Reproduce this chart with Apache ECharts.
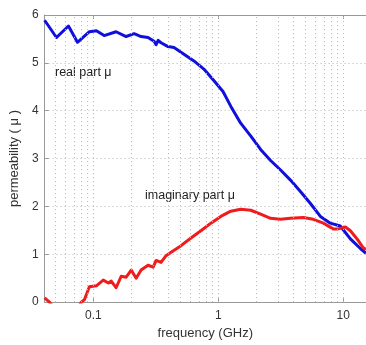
<!DOCTYPE html>
<html><head><meta charset="utf-8">
<script src="https://cdn.jsdelivr.net/npm/echarts@6/dist/echarts.min.js"></script>
<style>html,body{margin:0;padding:0;background:#fff}#c{width:366px;height:345px}</style>
</head><body><div id="c"></div>
<script>
// Real part of permeability (blue): frequency (GHz) and value
var realFreq = [0.0407,0.0507,0.0632,0.0746,0.093,0.1057,0.122,0.152,0.183,0.212,0.241,0.274,0.306,0.318,0.330,0.348,0.396,0.442,0.531,0.638,0.766,0.92,1.09,1.26,1.51,1.82,2.18,2.62,3.15,3.78,4.54,5.46,6.56,7.87,9.46,11.4,13.7,15.2];
var realVal  = [5.89,5.53,5.77,5.43,5.65,5.67,5.57,5.65,5.55,5.61,5.55,5.53,5.45,5.38,5.47,5.42,5.34,5.32,5.18,5.04,4.87,4.63,4.40,4.09,3.74,3.47,3.19,2.96,2.76,2.55,2.31,2.06,1.79,1.65,1.59,1.32,1.12,1.02];
// Imaginary part of permeability (red)
var imagFreq = [0.0407,0.0446,0.055,0.07,0.080,0.0848,0.0929,0.1057,0.120,0.132,0.139,0.152,0.167,0.183,0.201,0.220,0.241,0.274,0.301,0.318,0.348,0.382,0.419,0.503,0.604,0.726,0.872,1.047,1.258,1.51,1.82,2.18,2.62,3.15,3.78,4.8,5.75,6.93,8.3,9.1,10.4,11.4,12.9,14.4,15.2];
var imagVal  = [0.09,0.0,-0.3,-0.3,0.0,0.05,0.32,0.34,0.46,0.40,0.44,0.30,0.54,0.52,0.67,0.50,0.67,0.77,0.73,0.87,0.83,0.97,1.04,1.18,1.34,1.49,1.65,1.79,1.90,1.94,1.92,1.84,1.75,1.73,1.75,1.77,1.73,1.65,1.53,1.53,1.57,1.49,1.32,1.14,1.10];
// Grid line positions (log minor divisions)
var gridFreqs = [0.05,0.06,0.07,0.08,0.09,0.1,0.2,0.3,0.4,0.5,0.6,0.7,0.8,0.9,1,2,3,4,5,6,7,8,9,10];
var xTickLabels = {"-1":"0.1","0":"1","1":"10"};

function pairs(xs, ys){ return xs.map(function(x,i){ return [x, ys[i]]; }); }

var chart = echarts.init(document.getElementById('c'), null, {renderer:'canvas'});
var gridLineStyle = {color:'#b8b8b8', type:[1,3], width:1};
var font = 'Liberation Sans, Arial, sans-serif';
chart.setOption({
  animation:false,
  textStyle:{fontFamily:font},
  grid:{left:43, right:0, top:15, bottom:38, containLabel:false},
  xAxis:[{
    type:'log', logBase:10, min:0.0407, max:15.2,
    name:'frequency (GHz)', nameLocation:'middle', nameGap:17,
    nameTextStyle:{color:'#333', fontSize:13},
    axisLine:{show:true, onZero:false, lineStyle:{color:'#999', width:1}},
    axisTick:{show:true, inside:true, length:4, lineStyle:{color:'#999'}},
    axisLabel:{color:'#333', fontSize:12, margin:8, showMinLabel:false, showMaxLabel:false,
      formatter:function(v){ var k = String(Math.round(Math.log10(v))); return xTickLabels[k] || ''; }},
    splitLine:{show:false}
  },{
    type:'log', logBase:10, min:0.0407, max:15.2, position:'top',
    axisLine:{show:true, onZero:false, lineStyle:{color:'#999', width:1}},
    axisTick:{show:true, inside:true, length:4, lineStyle:{color:'#999'}},
    axisLabel:{show:false}, splitLine:{show:false}
  }],
  yAxis:{
    type:'value', min:0, max:6, interval:1,
    name:'permeability ( μ )', nameLocation:'middle', nameGap:16, nameRotate:90,
    nameTextStyle:{color:'#333', fontSize:13},
    axisLine:{show:true, lineStyle:{color:'#999', width:1}},
    axisTick:{show:true, inside:true, length:4, lineStyle:{color:'#999'}},
    axisLabel:{color:'#333', fontSize:12, margin:6},
    splitLine:{show:true, lineStyle:gridLineStyle}
  },
  series:[{
    type:'line', name:'grid', data:[], silent:true,
    markLine:{silent:true, symbol:['none','none'], label:{show:false},
      lineStyle:gridLineStyle, animation:false,
      data:gridFreqs.map(function(f){ return {xAxis:f}; })}
  },{
    type:'line', name:'real', data:pairs(realFreq, realVal), showSymbol:false, smooth:false,
    lineStyle:{color:'#1010dc', width:3, join:'round'}, itemStyle:{color:'#1010dc'}, clip:true, z:3
  },{
    type:'line', name:'imag', data:pairs(imagFreq, imagVal), showSymbol:false, smooth:false,
    lineStyle:{color:'#ee1c1c', width:3, join:'round'}, itemStyle:{color:'#ee1c1c'}, clip:true, z:4
  }],
  graphic:[
    {type:'text', left:55, top:66, style:{text:'real part μ', fontSize:12.5, fill:'#222', fontFamily:font}},
    {type:'text', left:145, top:189, style:{text:'imaginary part μ', fontSize:12.5, fill:'#222', fontFamily:font}}
  ]
});
</script></body></html>
